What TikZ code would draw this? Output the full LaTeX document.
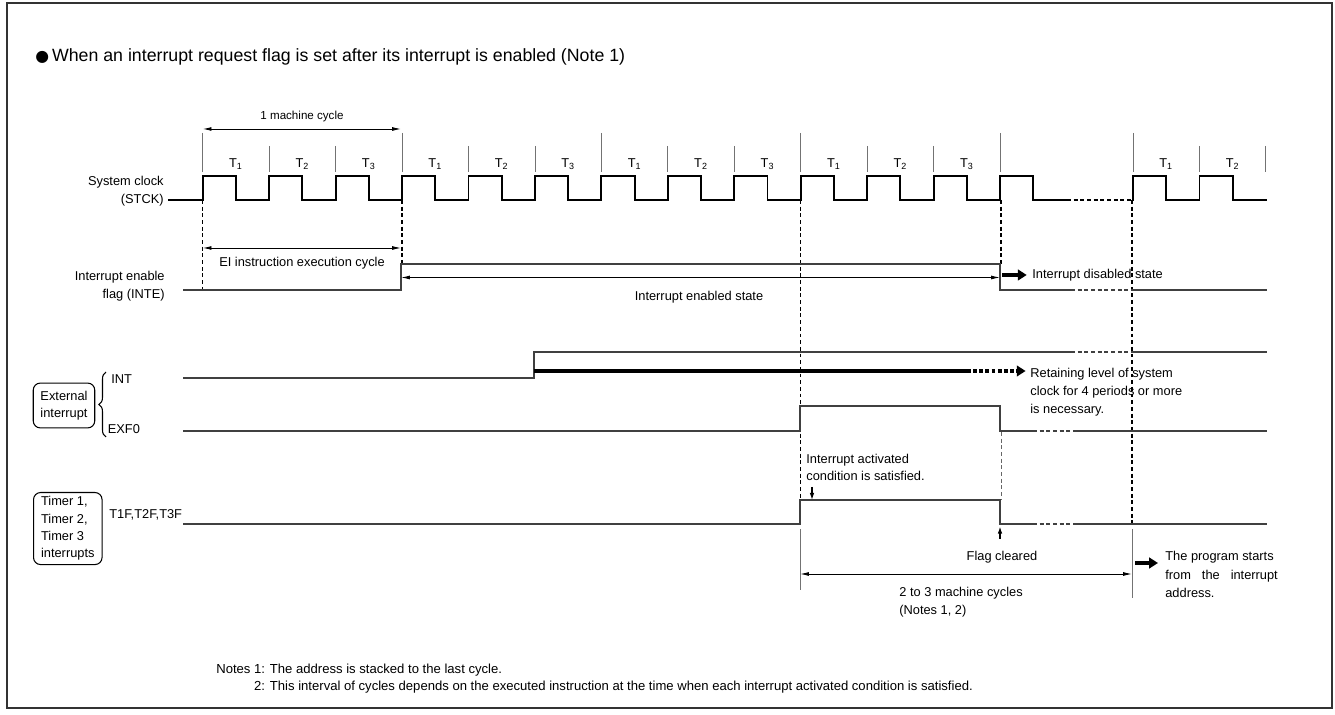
\documentclass[tikz,border=0pt]{standalone}
\usepackage{fontspec}
\setmainfont{Liberation Sans}
\newfontfamily\symfont{DejaVu Sans}
\usetikzlibrary{arrows.meta,decorations.pathreplacing}

\newcommand{\titlesize}{\fontsize{10.1}{12}\selectfont}
\newcommand{\lblsize}{\fontsize{7.3}{10.3}\selectfont}
\newcommand{\smallsize}{\fontsize{6.6}{8}\selectfont}
\newcommand{\notesize}{\fontsize{7.45}{9.7}\selectfont}

\begin{document}
\begin{tikzpicture}[x=0.02cm,y=-0.02cm,
  clk/.style={line width=1.1pt,black},
  sig/.style={line width=0.8pt,black!75},
  brk/.style={sig,dash pattern=on 2.2pt off 1.6pt},
  guide/.style={line width=0.7pt,black,dash pattern=on 2.2pt off 1.6pt},
  tick/.style={line width=0.5pt,black!55},
  dim/.style={line width=0.5pt,{Latex[length=5pt,width=2.2pt]}-{Latex[length=5pt,width=2.2pt]}},
  fat/.style={line width=2.2pt,-{Triangle[length=5pt,width=6pt]}},
  pin/.style={line width=0.7pt,-{Latex[length=4pt,width=2.6pt]}},
  lbl/.style={font=\lblsize,inner sep=0pt},
  tlbl/.style={font=\lblsize,inner sep=0pt},
  srcbox/.style={draw,line width=0.6pt,rounded corners=4pt,inner sep=1pt,align=left}]

% Frame and title
\useasboundingbox (0,0) rectangle (1335,715);
\draw[line width=1.1pt,black!80] (7,3) rectangle (1332,708);
\node[anchor=west,font=\titlesize,inner sep=0pt] (title) at (35,57) {{\symfont\fontsize{9}{10}\selectfont ●}\,When an interrupt request flag is set after its interrupt is enabled (Note 1)};

% Machine cycle
\coordinate (mcl) at (202.7,129);
\coordinate (mcr) at (401,129);
\draw[dim] (mcl) -- (mcr);
\node[font=\smallsize,inner sep=0pt] (mc) at (302,117) {1 machine cycle};

% State ticks and labels
\foreach \k in {0,3,6,9,12,14}
  \draw[tick] ({202.7+66.45*\k},133) -- ({202.7+66.45*\k},172);
\foreach \k in {1,2,4,5,7,8,10,11,15,16}
  \draw[tick] ({202.7+66.45*\k},146) -- ({202.7+66.45*\k},172);
\foreach \k/\t in {0/1,1/2,2/3,3/1,4/2,5/3,6/1,7/2,8/3,9/1,10/2,11/3,14/1,15/2}
  \node[tlbl] (t\k) at ({202.7+66.45*(\k+0.5)},164) {T\textsubscript{\t}};

% System clock
\node[lbl,anchor=east,align=right] (stck) at (164,191) {System clock\\(STCK)};
\draw[clk] (168,200) \foreach \k in {0,...,12}{
  -- ({202.7+66.45*\k},200) -- ++(0,-24) -- ++(33.2,0) -- ++(0,24)} -- (1067,200);
\draw[clk,line width=0.7pt,dash pattern=on 2.2pt off 1.6pt] (1067,200) -- (1132,200);
\draw[clk] (1132,200) \foreach \k in {14,15}{
  -- ({202.7+66.45*\k},200) -- ++(0,-24) -- ++(33.2,0) -- ++(0,24)} -- (1267,200);

% Guides
\draw[guide] (202.7,200) -- (202.7,290);
\draw[guide] (402,200) -- (402,264);
\draw[guide] (800.5,200) -- (800.5,500);
\draw[guide] (1001,200) -- (1001,264);
\draw[guide] (1132,200) -- (1132,524);
\draw[guide,line width=0.5pt,black!60] (1001,432) -- (1001,500);

% Interrupt enable flag
\node[lbl,anchor=east,align=right] (inte) at (165,286) {Interrupt enable\\flag (INTE)};
\draw[sig] (183,290) -- (401,290) -- (401,264) -- (1000,264) -- (1000,290) -- (1071,290);
\draw[brk] (1071,290) -- (1132,290);
\draw[sig] (1132,290) -- (1267,290);
\coordinate (eil) at (202.7,248);
\coordinate (eir) at (401,248);
\draw[dim] (eil) -- (eir);
\node[lbl] (ei) at (302,263) {EI instruction execution cycle};
\coordinate (enl) at (401,277.5);
\coordinate (enr) at (1000,277.5);
\draw[dim] (enl) -- (enr);
\node[lbl] (en) at (699,297) {Interrupt enabled state};
\coordinate (dis) at (1002,275);
\node[lbl,anchor=west] (disl) at (1032,275) {Interrupt disabled state};
\draw[fat] (dis) -- ([xshift=-3pt]disl.west);

% External interrupt
\node[srcbox,font=\fontsize{7.3}{9.4}\selectfont,minimum width=35pt,minimum height=25.5pt] (ext) at (64,405.5) {External\\interrupt};
\draw[line width=0.6pt,decorate,decoration={brace,amplitude=4pt}] (106,437) -- (106,372);
\node[lbl,anchor=west] (int) at (111,379) {INT};
\node[lbl,anchor=west] (exf) at (107.5,429.5) {EXF0};
\draw[sig] (183,378) -- (534,378) -- (534,352) -- (1071,352);
\draw[brk] (1071,352) -- (1132,352);
\draw[sig] (1132,352) -- (1267,352);
\coordinate (hold) at (534,371);
\coordinate (holdend) at (967,371);
\node[lbl,anchor=west,align=left] (ret) at (1030,392.5) {Retaining level of system\\clock for 4 periods or more\\is necessary.};
\draw[line width=2pt] (hold) -- (holdend);
\draw[line width=2pt,dash pattern=on 2.2pt off 1.3pt,-{Triangle[length=5pt,width=6pt]}] (holdend) -- ([xshift=-2.5pt]ret.west |- holdend);
\draw[sig] (183,431) -- (800,431) -- (800,406) -- (1000,406) -- (1000,431) -- (1033,431);
\draw[brk] (1033,431) -- (1075,431);
\draw[sig] (1075,431) -- (1267,431);

% Timer interrupts
\node[srcbox,font=\fontsize{7.3}{9.9}\selectfont,anchor=north west,minimum width=39pt,minimum height=41pt] (tmr) at (33,492) {Timer 1,\\Timer 2,\\Timer 3\\interrupts};
\node[lbl,anchor=west] (tf) at (109,515) {T1F,T2F,T3F};
\draw[sig] (183,524) -- (800,524) -- (800,500) -- (1000,500) -- (1000,524) -- (1033,524);
\draw[brk] (1033,524) -- (1075,524);
\draw[sig] (1075,524) -- (1267,524);
\node[lbl,anchor=west,align=left,font=\fontsize{7.3}{9.7}\selectfont] (act) at (806,467) {Interrupt activated\\condition is satisfied.};
\coordinate (acttip) at (812,500);
\draw[pin] (812,487) -- (acttip);
\node[lbl] (clr) at (1002,557) {Flag cleared};
\coordinate (clrtip) at (1000,526.5);
\draw[pin] (1000,539) -- (clrtip);

% Interrupt interval
\draw[tick] (800,529) -- (800,590);
\draw[tick] (1132,529) -- (1132,598);
\coordinate (ivl) at (800,574);
\coordinate (ivr) at (1132,574);
\draw[dim] (ivl) -- (ivr);
\node[lbl,anchor=north west,align=left] (iv) at (899,587) {2 to 3 machine cycles\\(Notes 1, 2)};
\node[lbl,anchor=north west,align=left,font=\fontsize{7.3}{10.5}\selectfont] (prog) at (1165,551) {The program starts\\\makebox[64pt][s]{from the interrupt}\\address.};
\coordinate (progarr) at (1135,563);
\draw[fat] (progarr) -- (1158,563);

% Notes
\node[anchor=north west,align=left,font=\notesize,inner sep=0pt] (notes) at (216,664) {Notes 1: The address is stacked to the last cycle.\\\phantom{Notes }2: This interval of cycles depends on the executed instruction at the time when each interrupt activated condition is satisfied.};
\end{tikzpicture}
\end{document}
